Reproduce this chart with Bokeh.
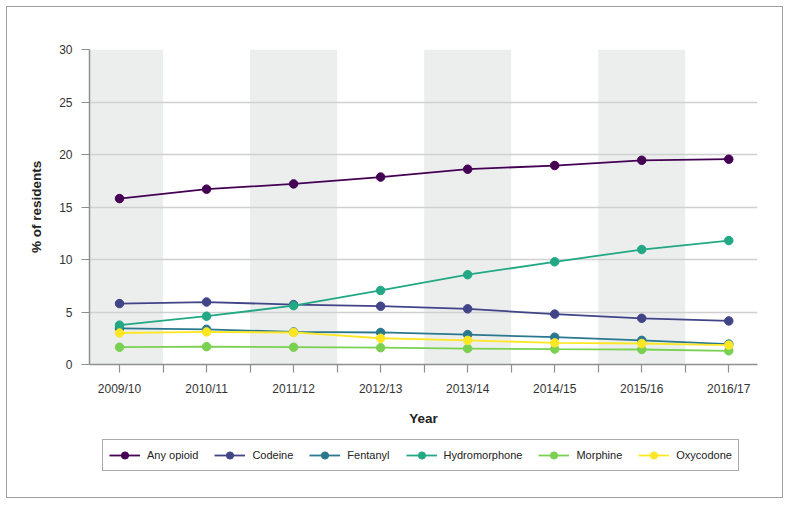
from bokeh.plotting import figure
from bokeh.layouts import column
from bokeh.models import (Range1d, FixedTicker, Legend, LegendItem, ColumnDataSource)
from bokeh.embed import file_html
from bokeh.resources import INLINE

years = ["2009/10", "2010/11", "2011/12", "2012/13", "2013/14", "2014/15", "2015/16", "2016/17"]
series_names = ["Any opioid", "Codeine", "Fentanyl", "Hydromorphone", "Morphine", "Oxycodone"]
any_opioid = [15.8, 16.7, 17.2, 17.85, 18.6, 18.95, 19.45, 19.55]
codeine = [5.8, 5.95, 5.7, 5.55, 5.3, 4.8, 4.4, 4.15]
fentanyl = [3.45, 3.35, 3.1, 3.05, 2.85, 2.6, 2.3, 1.95]
hydromorphone = [3.75, 4.6, 5.6, 7.05, 8.55, 9.78, 10.95, 11.8]
morphine = [1.65, 1.7, 1.65, 1.6, 1.52, 1.47, 1.43, 1.3]
oxycodone = [3.0, 3.1, 3.05, 2.5, 2.3, 2.06, 2.0, 1.85]
colors = ["#440154", "#414487", "#2A788E", "#22A884", "#7AD151", "#FDE725"]
y_ticks = [0, 5, 10, 15, 20, 25, 30]

FONT = "Liberation Sans"
AXIS_COL = "#8f8f8f"
W = 775

xs = list(range(len(years)))
p = figure(width=W, height=427, output_backend="svg", toolbar_location=None,
           x_range=Range1d(-0.345, len(years) - 1 + 0.33),
           y_range=Range1d(y_ticks[0], y_ticks[-1]),
           min_border_left=82, min_border_right=25, min_border_top=42, min_border_bottom=70)
p.outline_line_color = None
p.background_fill_color = "white"
p.border_fill_color = "white"

# alternating shaded bands
band_idx = [i for i in xs if i % 2 == 0]
band_src = ColumnDataSource(dict(left=[i - 0.5 for i in band_idx], right=[i + 0.5 for i in band_idx],
                                 bottom=[y_ticks[0]] * len(band_idx), top=[y_ticks[-1]] * len(band_idx)))
p.quad(left="left", right="right", bottom="bottom", top="top", source=band_src,
       fill_color="#eceeee", line_color=None, level="underlay")

# grid
p.xgrid.grid_line_color = None
p.ygrid.grid_line_color = "#d0d0d0"
p.ygrid.grid_line_width = 1.3
p.ygrid.ticker = FixedTicker(ticks=y_ticks)

# axes
p.xaxis.ticker = FixedTicker(ticks=xs, minor_ticks=[i + 0.5 for i in xs[:-1]])
p.xaxis.major_label_overrides = {i: y for i, y in enumerate(years)}
p.yaxis.ticker = FixedTicker(ticks=y_ticks)
for ax in (p.xaxis[0], p.yaxis[0]):
    ax.axis_line_color = AXIS_COL
    ax.axis_line_width = 1.5
    ax.major_tick_line_color = AXIS_COL
    ax.major_tick_line_width = 1.2
    ax.major_tick_out = 8
    ax.major_tick_in = 0
    ax.minor_tick_line_color = AXIS_COL
    ax.minor_tick_line_width = 1.2
    ax.minor_tick_out = 8
    ax.minor_tick_in = 0
    ax.major_label_text_font = FONT
    ax.major_label_text_font_size = "12px"
    ax.major_label_text_color = "#333333"
    ax.axis_label_text_font = FONT
    ax.axis_label_text_font_style = "bold"
    ax.axis_label_text_font_size = "13.5px"
    ax.axis_label_text_color = "#222222"
p.yaxis.minor_tick_line_color = None
p.xaxis.axis_label = "Year"
p.yaxis.axis_label = "% of residents"
p.xaxis.major_label_standoff = 9
p.xaxis.axis_label_standoff = 12
p.yaxis.major_label_standoff = 9
p.yaxis.axis_label_standoff = 12

data = [any_opioid, codeine, fentanyl, hydromorphone, morphine, oxycodone]
sources = []
for name, vals, col in zip(series_names, data, colors):
    src = ColumnDataSource(dict(x=xs, y=vals))
    sources.append(src)
    p.line("x", "y", source=src, line_color=col, line_width=1.8)
    p.scatter("x", "y", source=src, size=8.5, fill_color=col, line_color=col)

# legend strip below the chart; its helper renderers reuse the series data,
# which lies outside this strip's (negative) y range, so only the legend shows
pl = figure(width=W, height=63, output_backend="svg", toolbar_location=None,
            x_axis_location=None, y_axis_location=None, min_border=0,
            x_range=Range1d(0, 1), y_range=Range1d(-2, -1))
pl.outline_line_color = None
pl.grid.grid_line_color = None
pl.border_fill_color = "white"
pl.background_fill_color = "white"
items = []
for name, src, col in zip(series_names, sources, colors):
    lr = pl.line("x", "y", source=src, line_color=col, line_width=1.8)
    sr = pl.scatter("x", "y", source=src, size=7.5, fill_color=col, line_color=col)
    items.append(LegendItem(label=name, renderers=[lr, sr]))
legend = Legend(items=items, orientation="horizontal", location=(13, 26),
                label_text_font=FONT, label_text_font_size="11px", label_text_color="#222222",
                glyph_width=31, glyph_height=18, label_standoff=7, spacing=16,
                label_height=12, padding=6, margin=0,
                border_line_color="#555555", border_line_width=1,
                background_fill_color="white", background_fill_alpha=1)
pl.add_layout(legend, "center")

layout = column(p, pl, spacing=0, styles={"border": "1px solid #a0a0a0", "margin": "6px 0 0 6px"})
open("out.html", "w").write(file_html(layout, INLINE))
